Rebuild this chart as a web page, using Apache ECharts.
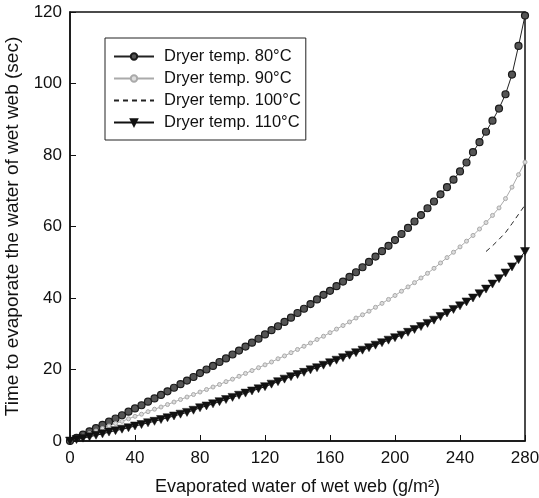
<!DOCTYPE html>
<html>
<head>
<meta charset="utf-8">
<script src="https://cdn.jsdelivr.net/npm/echarts@6/dist/echarts.min.js"></script>
<style>
  html, body { margin: 0; padding: 0; background: #fff; }
  #container { width: 539px; height: 498px; }
</style>
</head>
<body>
<div id="container"></div>
<script>
var dom = document.getElementById('container');
var myChart = echarts.init(dom, null, { renderer: 'canvas' });

// evaporated water (g/m2)
const xs = [0, 4, 8, 12, 16, 20, 24, 28, 32, 36, 40, 44, 48, 52, 56, 60, 64, 68, 72, 76,
  80, 84, 88, 92, 96, 100, 104, 108, 112, 116, 120, 124, 128, 132, 136, 140, 144, 148, 152, 156,
  160, 164, 168, 172, 176, 180, 184, 188, 192, 196, 200, 204, 208, 212, 216, 220, 224, 228, 232, 236,
  240, 244, 248, 252, 256, 260, 264, 268, 272, 276, 280];

// time (sec)
const t80 = [0, 0.9, 1.8, 2.7, 3.6, 4.5, 5.4, 6.3, 7.2, 8.2, 9.1, 10.0, 11.0, 11.9, 12.9, 13.9, 14.9, 15.9, 16.9, 17.9,
  19.0, 20.0, 21.0, 22.1, 23.1, 24.2, 25.3, 26.4, 27.5, 28.6, 29.8, 31.0, 32.1, 33.3, 34.5, 35.8, 37.0, 38.3, 39.6, 40.9,
  42.0, 43.3, 44.6, 45.9, 47.2, 48.6, 50.1, 51.6, 53.1, 54.6, 56.2, 57.9, 59.6, 61.4, 63.2, 65.1, 67.0, 69.0, 71.0, 73.1,
  75.4, 77.9, 80.8, 83.6, 86.5, 89.6, 93.0, 97.0, 102.5, 110.5, 119.0];

const t90 = [0, 0.7, 1.4, 2.1, 2.8, 3.5, 4.2, 4.9, 5.5, 6.2, 6.9, 7.5, 8.2, 8.9, 9.5, 10.2, 10.9, 11.6, 12.3, 13.0,
  13.7, 14.4, 15.1, 15.8, 16.6, 17.3, 18.1, 18.9, 19.7, 20.5, 21.3, 22.1, 23.0, 23.8, 24.7, 25.6, 26.5, 27.4, 28.4, 29.3,
  30.3, 31.3, 32.3, 33.3, 34.4, 35.3, 36.3, 37.4, 38.5, 39.6, 40.7, 41.9, 43.1, 44.3, 45.6, 46.9, 48.3, 49.8, 51.3, 52.8,
  54.3, 55.9, 57.5, 59.3, 61.1, 63.1, 65.2, 67.8, 71.0, 74.5, 78.0];

const xs100 = [256, 260, 264, 268, 272, 276, 280];
const t100 = [53.0, 54.6, 56.4, 58.3, 60.8, 63.4, 66.0];

const t110 = [0, 0.4, 0.8, 1.2, 1.6, 2.0, 2.5, 2.9, 3.3, 3.7, 4.2, 4.6, 5.1, 5.5, 6.0, 6.5, 7.0, 7.5, 8.0, 8.6,
  9.3, 9.8, 10.4, 11.0, 11.6, 12.2, 12.8, 13.4, 14.0, 14.6, 15.2, 15.9, 16.6, 17.3, 18.0, 18.6, 19.2, 19.9, 20.5, 21.2,
  21.9, 22.6, 23.3, 24.0, 24.7, 25.4, 26.1, 26.8, 27.5, 28.2, 28.9, 29.6, 30.4, 31.2, 32.0, 32.9, 33.8, 34.8, 35.8, 36.8,
  37.8, 38.9, 40.0, 41.2, 42.5, 43.9, 45.4, 47.0, 48.7, 50.7, 53.0];

const seriesNames = ['Dryer temp. 80°C', 'Dryer temp. 90°C', 'Dryer temp. 100°C', 'Dryer temp. 110°C'];

function pairs(x, y) {
  return x.map((v, i) => [v, y[i]]);
}

const fontFamily = '"Liberation Sans", Arial, sans-serif';

var option = {
  animation: false,
  backgroundColor: '#fff',
  grid: {
    left: 70, right: 14, top: 12, bottom: 57,
    outerBoundsMode: 'none', containLabel: false,
    show: true, borderColor: '#111', borderWidth: 1.5
  },
  legend: {
    orient: 'vertical',
    left: 105, top: 38,
    data: [
      seriesNames[0],
      seriesNames[1],
      { name: seriesNames[2], itemStyle: { opacity: 0 } },
      seriesNames[3]
    ],
    itemWidth: 40, itemHeight: 8, itemGap: 5,
    padding: [10, 5, 9, 8],
    borderColor: '#222', borderWidth: 1,
    backgroundColor: '#fff',
    textStyle: { fontFamily: fontFamily, fontSize: 16.5, color: '#111', padding: [0, 0, 0, 5] }
  },
  xAxis: {
    type: 'value', min: 0, max: 280, interval: 40,
    name: 'Evaporated water of wet web (g/m²)',
    nameLocation: 'middle', nameGap: 37,
    nameTextStyle: { fontFamily: fontFamily, fontSize: 18, color: '#111' },
    axisLine: { lineStyle: { color: '#111', width: 1.5 } },
    axisTick: { inside: true, length: 6, lineStyle: { color: '#111' } },
    axisLabel: { fontFamily: fontFamily, fontSize: 17, color: '#111', margin: 9 },
    splitLine: { show: false }
  },
  yAxis: {
    type: 'value', min: 0, max: 120, interval: 20,
    name: 'Time to evaporate the water of wet web (sec)',
    nameLocation: 'middle', nameGap: 37, nameRotate: 90,
    nameTextStyle: { fontFamily: fontFamily, fontSize: 19, color: '#111' },
    axisLine: { lineStyle: { color: '#111', width: 1.5 } },
    axisTick: { inside: true, length: 6, lineStyle: { color: '#111' } },
    axisLabel: { fontFamily: fontFamily, fontSize: 17, color: '#111', margin: 8 },
    splitLine: { show: false }
  },
  series: [
    {
      name: seriesNames[0], type: 'line',
      data: pairs(xs, t80),
      symbol: 'circle', symbolSize: 7, showAllSymbol: true,
      lineStyle: { color: '#222', width: 1 },
      itemStyle: { color: '#555', borderColor: '#1a1a1a', borderWidth: 1.2 }
    },
    {
      name: seriesNames[1], type: 'line',
      data: pairs(xs, t90),
      symbol: 'circle', symbolSize: 4, showAllSymbol: true,
      lineStyle: { color: '#aaa', width: 1 },
      itemStyle: { color: '#ddd', borderColor: '#aaa', borderWidth: 1 }
    },
    {
      name: seriesNames[2], type: 'line',
      data: pairs(xs100, t100),
      symbol: 'none',
      lineStyle: { color: '#222', width: 1, type: [5, 4] },
      itemStyle: { color: '#222' }
    },
    {
      name: seriesNames[3], type: 'line',
      data: pairs(xs, t110),
      symbol: 'triangle', symbolRotate: 180, symbolSize: [9, 8], showAllSymbol: true,
      lineStyle: { color: '#111', width: 1 },
      itemStyle: { color: '#111', borderColor: '#111', borderWidth: 0.5 }
    }
  ]
};

myChart.setOption(option);
window.addEventListener('resize', myChart.resize);
</script>
</body>
</html>
